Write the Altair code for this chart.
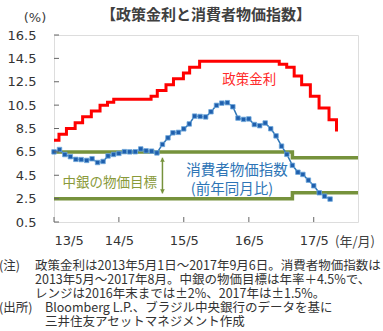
import altair as alt
import pandas as pd

# ---- data ----
policy_dates = ["2013-05-01", "2013-05-29", "2013-07-10", "2013-08-28", "2013-10-09",
                "2013-11-27", "2014-01-15", "2014-02-26", "2014-04-02", "2014-10-29",
                "2014-12-03", "2015-01-21", "2015-03-04", "2015-04-29", "2015-06-03",
                "2015-07-29", "2016-10-19", "2016-11-30", "2017-01-11", "2017-02-22",
                "2017-04-12", "2017-05-31", "2017-07-26", "2017-09-06"]
policy_rate = [7.5, 8.0, 8.5, 9.0, 9.5, 10.0, 10.5, 10.75, 11.0, 11.25,
               11.75, 12.25, 12.75, 13.25, 13.75, 14.25, 14.0, 13.75, 13.0, 12.25,
               11.25, 10.25, 9.25, 8.25]

cpi_months = pd.date_range("2013-05-01", "2017-08-01", freq="MS").strftime("%Y-%m-%d").tolist()
cpi_yoy = [6.50, 6.70, 6.27, 6.09, 5.86, 5.84, 5.77, 5.91,
           5.59, 5.68, 6.15, 6.28, 6.37, 6.52, 6.50, 6.51, 6.75, 6.59, 6.56, 6.41,
           7.14, 7.70, 8.13, 8.17, 8.47, 8.89, 9.56, 9.53, 9.49, 9.93, 10.48, 10.67,
           10.71, 10.36, 9.39, 9.28, 9.32, 8.84, 8.74, 8.97, 8.48, 7.87, 6.99, 6.29,
           5.35, 4.76, 4.57, 4.08, 3.60, 3.00, 2.71, 2.46]

target_dates = ["2013-05-01", "2017-01-01", "2018-01-05"]
target_upper = [6.5, 6.0, 6.0]
target_lower = [2.5, 3.0, 3.0]

arrow_date = ["2015-01-01"]
arrow_top = [6.0]
arrow_bottom = [2.95]

y_ticks = [0.5, 2.5, 4.5, 6.5, 8.5, 10.5, 12.5, 14.5, 16.5]
x_tick_years = [2013, 2014, 2015, 2016, 2017]
x_tick_dates = ["2013-05-01", "2014-05-01", "2015-05-01", "2016-05-01", "2017-05-01"]

label_policy = ("政策金利", "2016-05-03", 12.63)
label_cpi1 = ("消費者物価指数", "2016-02-24", 4.87)
label_cpi2 = ("(前年同月比)", "2016-01-27", 3.28)
label_target = ("中銀の物価目標", "2014-03-10", 3.80)

title_text = "【政策金利と消費者物価指数】"
unit_text = "(%)"
xunit_text = "(年/月)"
note_head = "(注)"
note_lines = ["政策金利は2013年5月1日～2017年9月6日。消費者物価指数は",
              "2013年5月～2017年8月。中銀の物価目標は年率＋4.5%で、",
              "レンジは2016年末までは±2%、2017年は±1.5%。"]
src_head = "(出所)"
src_lines = ["Bloomberg L.P.、ブラジル中央銀行のデータを基に",
             "三井住友アセットマネジメント作成"]

# ---- styling ----
W, H = 304, 187
RED = "#FF0000"
BLUE = "#2E75B6"
GREEN = "#76923C"
TXT = "#404040"
JP = "Noto Sans CJK JP"

x_scale = alt.Scale(type="utc",
                    domain=[alt.DateTime(year=2013, month=5, date=1, utc=True),
                            alt.DateTime(year=2018, month=1, date=5, utc=True)])
y_scale = alt.Scale(domain=[0.5, 16.5], nice=False, zero=False)

x_axis = alt.Axis(values=[alt.DateTime(year=y, month=5, date=1, utc=True) for y in x_tick_years],
                  labelExpr="utcFormat(datum.value, '%y/%-m')",
                  ticks=False, domain=False, grid=False, title=None,
                  labelFont="DejaVu Sans", labelFontSize=13, labelColor="#333333",
                  labelPadding=12)
y_axis = alt.Axis(values=y_ticks, format=".1f", ticks=False, domain=False, grid=False,
                  title=None, labelFont="DejaVu Sans", labelFontSize=13,
                  labelColor="#333333", labelPadding=18)


def X(field="date"):
    return alt.X(f"{field}:T", scale=x_scale, axis=x_axis)


def Y(field="value"):
    return alt.Y(f"{field}:Q", scale=y_scale, axis=y_axis)


policy_df = pd.DataFrame({"date": policy_dates, "value": policy_rate})
cpi_df = pd.DataFrame({"date": cpi_months, "value": cpi_yoy})
up_df = pd.DataFrame({"date": target_dates, "value": target_upper})
lo_df = pd.DataFrame({"date": target_dates, "value": target_lower})
arrow_df = pd.DataFrame({"date": arrow_date, "top": arrow_top, "bottom": arrow_bottom})

upper = alt.Chart(up_df).mark_line(color=GREEN, strokeWidth=3.5, interpolate="step-after").encode(x=X(), y=Y())
lower = alt.Chart(lo_df).mark_line(color=GREEN, strokeWidth=3.5, interpolate="step-after").encode(x=X(), y=Y())

arrow_shaft = alt.Chart(arrow_df).mark_rule(color=GREEN, strokeWidth=1.5).encode(
    x=X(), y=alt.Y("top:Q", scale=y_scale, axis=y_axis), y2="bottom:Q")
arrow_head_top = alt.Chart(arrow_df).mark_point(shape="triangle-up", filled=True, color=GREEN,
                                                size=22, opacity=1, yOffset=2).encode(
    x=X(), y=alt.Y("top:Q", scale=y_scale, axis=y_axis))
arrow_head_bot = alt.Chart(arrow_df).mark_point(shape="triangle-down", filled=True, color=GREEN,
                                                size=22, opacity=1, yOffset=-2).encode(
    x=X(), y=alt.Y("bottom:Q", scale=y_scale, axis=y_axis))

cpi_line = alt.Chart(cpi_df).mark_line(color=BLUE, strokeWidth=1.5).encode(x=X(), y=Y())
cpi_pts = alt.Chart(cpi_df).mark_square(size=20, fill="#1F5FAD", stroke="#6FA8DC",
                                        strokeWidth=0.8, opacity=1).encode(x=X(), y=Y())

policy_line = alt.Chart(policy_df).mark_line(color=RED, strokeWidth=3,
                                             interpolate="step-after").encode(x=X(), y=Y())


def label(item, color, size):
    df = pd.DataFrame({"t": [item[0]], "date": [item[1]], "value": [item[2]]})
    return alt.Chart(df).mark_text(font=JP, fontSize=size, color=color,
                                   baseline="middle", align="center").encode(
        x=X(), y=Y(), text="t:N")


lab1 = label(label_policy, "#FF2A2A", 13.5)
lab2 = label(label_cpi1, "#2E75B6", 14.5)
lab3 = label(label_cpi2, "#2E75B6", 14.5)
lab4 = label(label_target, "#8A9A3A", 13.5)

# inward ticks
xt_df = pd.DataFrame({"date": x_tick_dates})
x_ticks = alt.Chart(xt_df).mark_rule(color="#666666", strokeWidth=1).encode(
    x=X(), y=alt.value(H), y2=alt.value(H - 5))
yt_df = pd.DataFrame({"value": y_ticks})
y_ticks_m = alt.Chart(yt_df).mark_rule(color="#666666", strokeWidth=1).encode(
    y=Y(), x=alt.value(0), x2=alt.value(5))

# outside texts
one = pd.DataFrame({"a": [0]})


def free_text(txt, x, y, size, align="left", weight="normal", color=TXT, font=JP):
    return alt.Chart(one).mark_text(text=txt, font=font, fontSize=size, fontWeight=weight,
                                    color=color, align=align, baseline="middle").encode(
        x=alt.value(x), y=alt.value(y))


texts = [free_text(title_text, 152, -20, 15, align="center", weight="bold"),
         free_text(unit_text, -19, -17, 13, align="center", font="DejaVu Sans"),
         free_text(xunit_text, 281, 207, 13)]
ny0 = 230.5
step = 14.2
FN = 12.5
texts.append(free_text(note_head, -55, ny0, FN, color="#333333"))
for i, t in enumerate(note_lines):
    texts.append(free_text(t, -19, ny0 + i * step, FN, color="#333333"))
texts.append(free_text(src_head, -55, ny0 + 3 * step, FN, color="#333333"))
for i, t in enumerate(src_lines):
    texts.append(free_text(t, -9, ny0 + (3 + i) * step, FN, color="#333333"))

chart = alt.layer(
    upper, lower, arrow_shaft, arrow_head_top, arrow_head_bot,
    cpi_line, cpi_pts, policy_line, lab1, lab2, lab3, lab4,
    x_ticks, y_ticks_m, *texts
).properties(
    width=W, height=H,
    autosize=alt.AutoSizeParams(type="none"),
    padding={"left": 54, "top": 35, "right": 25, "bottom": 109},
).configure_view(stroke="#808080", strokeWidth=1).configure(background="white")

chart.save("out.html", embed_options={"renderer": "svg", "actions": False})
